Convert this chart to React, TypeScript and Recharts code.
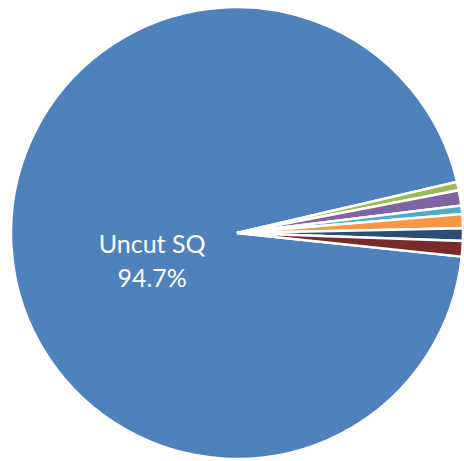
import { Cell, Pie, PieChart } from "recharts";

const categories = ["Uncut SQ", "Cut A", "Cut B", "Cut C", "Cut D", "Cut E", "Cut F"];
const shares = [94.7, 0.6, 1.1, 0.6, 1.0, 0.9, 1.1];
const colors = ["#4F81BD", "#9BBB59", "#8064A2", "#4BACC6", "#F79646", "#2C4D75", "#772C2A"];

const data = categories.map((name, i) => ({ name, value: shares[i] }));

const RAD = Math.PI / 180;

// only the big slice carries a label, the thin ones stay bare
const renderLabel = (props: any) => {
  const { cx, cy, midAngle, outerRadius, index, name, value } = props;
  if (index !== 0) return null;
  const r = outerRadius * 0.376;
  const x = cx + r * Math.cos(-midAngle * RAD);
  const y = cy + r * Math.sin(-midAngle * RAD);
  return (
    <text
      x={x}
      fill="#ffffff"
      textAnchor="middle"
      fontFamily="Lato, 'Noto Sans', sans-serif"
      fontSize={25}
    >
      <tspan x={x} y={y + 15}>{name}</tspan>
      <tspan x={x} y={y + 49}>{value.toFixed(1)}%</tspan>
    </text>
  );
};

export default function App() {
  return (
    <div style={{ position: "absolute", left: 0, top: 0, width: 464, height: 461, background: "#fff" }}>
      <PieChart width={464} height={461} margin={{ top: 0, right: 0, bottom: 0, left: 0 }}>
        <Pie
          data={data}
          dataKey="value"
          nameKey="name"
          cx={237}
          cy={233}
          outerRadius={226}
          startAngle={-6}
          endAngle={-366}
          stroke="#ffffff"
          strokeWidth={2.5}
          label={renderLabel}
          labelLine={false}
          isAnimationActive={false}
        >
          {data.map((d, i) => (
            <Cell key={d.name} fill={colors[i]} />
          ))}
        </Pie>
      </PieChart>
    </div>
  );
}
